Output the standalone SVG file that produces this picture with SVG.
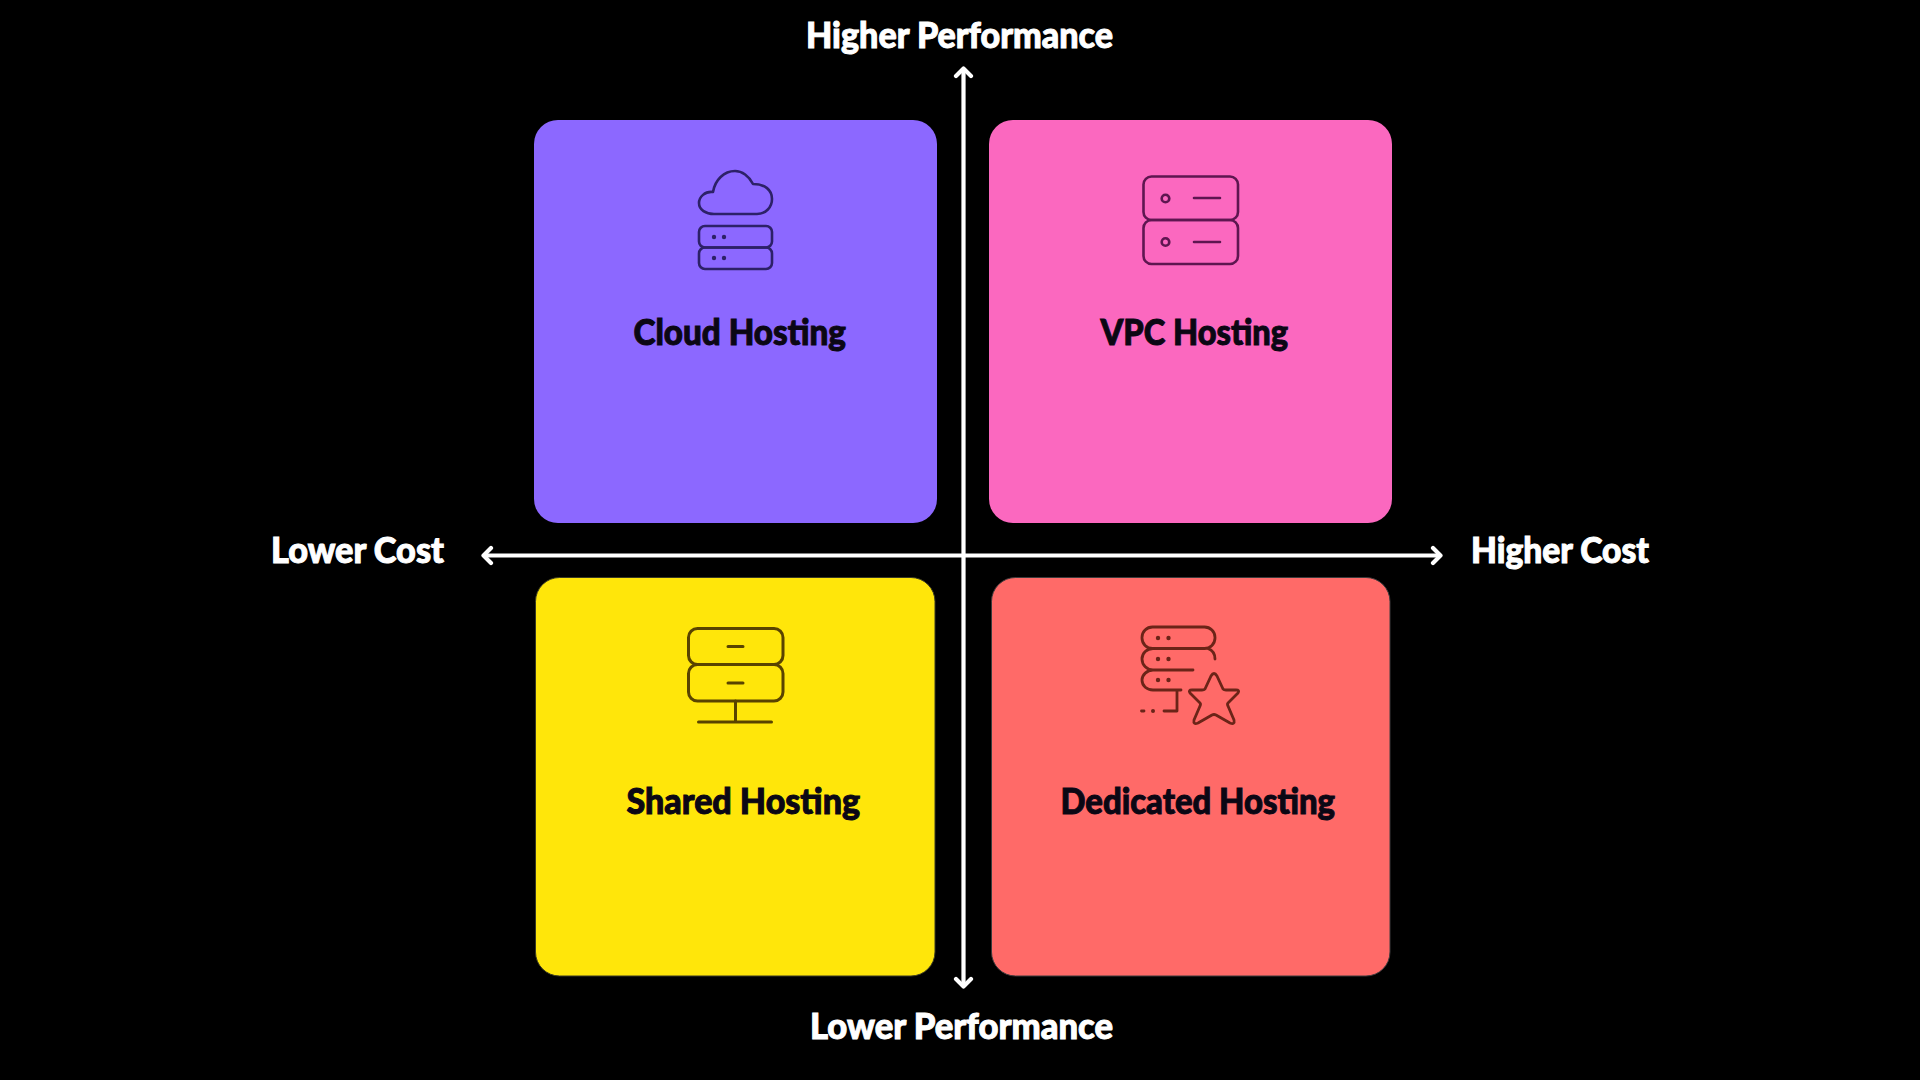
<svg xmlns="http://www.w3.org/2000/svg" width="1920" height="1080" viewBox="0 0 1920 1080">
<style>
text{font-family:"Lato","Liberation Sans",sans-serif;font-weight:900;font-size:36px}
.ax{fill:#fff;stroke:#fff;stroke-width:1}
.nm{fill:#0b0714;stroke:#0b0714;stroke-width:1}
.ic{fill:none;stroke-width:2.600;stroke-linecap:round;stroke-linejoin:round}
.cn{fill:none;stroke:#fff;stroke-width:4.200;stroke-linecap:butt}
.hd{fill:none;stroke:#fff;stroke-width:4.200;stroke-linecap:round;stroke-linejoin:round}
</style>
<rect width="1920" height="1080" fill="#000"/>
<g id="node-cloud">
<rect x="534" y="120" width="403" height="403" rx="24" fill="#8c68ff"/>
<g class="ic" stroke="#2d2168">
<path d="M714 214H757C766 214 772 207 772 199C772 190 765 184 753 184C749 176 742 171 735 171C724 171 715 180 713 192C705 191 699 197 699 203C699 210 706 214 714 214Z"/>
<rect x="699" y="226" width="73" height="21.500" rx="6"/>
<rect x="699" y="247.500" width="73" height="21.500" rx="6"/>
</g>
<g fill="#2d2168"><circle cx="714" cy="237" r="2.200"/><circle cx="724" cy="237" r="2.200"/><circle cx="714" cy="258" r="2.200"/><circle cx="724" cy="258" r="2.200"/></g>
<text class="nm" x="633.500" y="345" textLength="212.500" lengthAdjust="spacingAndGlyphs">Cloud Hosting</text>
</g>
<g id="node-vpc">
<rect x="989" y="120" width="403" height="403" rx="24" fill="#fb68bf"/>
<g class="ic" stroke="#5e1650">
<rect x="1143.500" y="176.500" width="94.500" height="43.500" rx="8"/>
<rect x="1143.500" y="220" width="94.500" height="44" rx="8"/>
<circle cx="1165.500" cy="198.500" r="3.800"/>
<circle cx="1165.500" cy="242" r="3.800"/>
<path d="M1194 198H1220M1194 242H1220"/>
</g>
<text class="nm" x="1100.500" y="345" textLength="187.500" lengthAdjust="spacingAndGlyphs">VPC Hosting</text>
</g>
<g id="node-shared">
<rect x="535.500" y="577.500" width="399.500" height="398.500" rx="24" fill="#ffe60a" stroke="#3a3a22" stroke-width="1"/>
<g class="ic" stroke="#594300" style="stroke-width:3">
<rect x="688.500" y="628.500" width="94.500" height="36" rx="9"/>
<rect x="688.500" y="664.500" width="94.500" height="36.500" rx="9"/>
<path d="M728 646.500H743M728 683H743M735.500 701V722M698.500 722H771.500"/>
</g>
<text class="nm" x="626.500" y="814" textLength="233.500" lengthAdjust="spacingAndGlyphs">Shared Hosting</text>
</g>
<g id="node-dedicated">
<rect x="991.500" y="577.500" width="398.500" height="398.500" rx="24" fill="#ff6a68" stroke="#3c3a3c" stroke-width="1"/>
<g class="ic" stroke="#6b2418" style="stroke-width:2.800">
<rect x="1142" y="627" width="73" height="21.500" rx="10.500"/>
<path d="M1208 648.500C1212 650 1215 654 1215 659M1153 648.500C1147 648.500 1142 653 1142 659C1142 665 1147 670 1153 670H1193M1153 670C1147 670 1142 675 1142 680C1142 686 1147 690 1153 690H1181M1177 690V711H1164M1141.500 711H1144"/>
<path d="M1211 676Q1214 671 1217 676L1223 689Q1224 690 1226 690H1236Q1240 690 1238 693L1228 703Q1227 704 1228 706L1234 720Q1235 725 1230 723L1216 715Q1214 714 1212 715L1198 723Q1193 725 1194 720L1200 706Q1201 704 1200 703L1190 693Q1188 690 1192 690H1202Q1204 690 1205 689Z"/>
</g>
<g fill="#6b2418"><circle cx="1158" cy="638" r="2.200"/><circle cx="1168.500" cy="638" r="2.200"/><circle cx="1158" cy="659" r="2.200"/><circle cx="1168.500" cy="659" r="2.200"/><circle cx="1158" cy="680" r="2.200"/><circle cx="1168.500" cy="680" r="2.200"/><circle cx="1153" cy="711" r="2"/></g>
<text class="nm" x="1060.500" y="814" textLength="274.500" lengthAdjust="spacingAndGlyphs">Dedicated Hosting</text>
</g>
<g id="connectors">
<path class="cn" d="M963.500 69V986M484 555.500H1440"/>
<path class="hd" d="M956 76L963.500 68.500L971 76M956 979L963.500 986.500L971 979M491 548L483.500 555.500L491 563M1433 548L1440.500 555.500L1433 563"/>
</g>
<g id="axis-labels">
<text class="ax" x="806" y="48" textLength="307" lengthAdjust="spacingAndGlyphs">Higher Performance</text>
<text class="ax" x="810" y="1039" textLength="303" lengthAdjust="spacingAndGlyphs">Lower Performance</text>
<text class="ax" x="271" y="563" textLength="173" lengthAdjust="spacingAndGlyphs">Lower Cost</text>
<text class="ax" x="1471" y="563" textLength="178" lengthAdjust="spacingAndGlyphs">Higher Cost</text>
</g>
</svg>
